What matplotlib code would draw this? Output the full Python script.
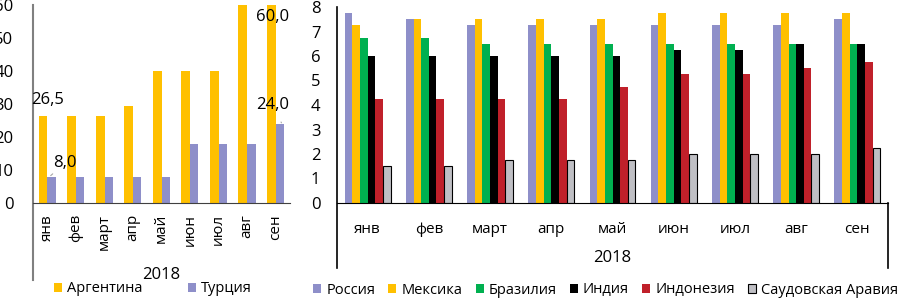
import matplotlib
matplotlib.use("Agg")
import matplotlib.pyplot as plt
import numpy as np
from matplotlib.lines import Line2D

plt.rcParams["font.family"] = ["Open Sans", "DejaVu Sans"]

months = ["янв", "фев", "март", "апр", "май", "июн", "июл", "авг", "сен"]
year = "2018"

argentina = [26.5, 26.5, 26.5, 29.5, 40, 40, 40, 60, 60]
turkey = [8, 8, 8, 8, 8, 17.75, 17.75, 17.75, 24]

russia = [7.75, 7.5, 7.25, 7.25, 7.25, 7.25, 7.25, 7.25, 7.5]
mexico = [7.25, 7.5, 7.5, 7.5, 7.5, 7.75, 7.75, 7.75, 7.75]
brazil = [6.75, 6.75, 6.5, 6.5, 6.5, 6.5, 6.5, 6.5, 6.5]
india = [6.0, 6.0, 6.0, 6.0, 6.0, 6.25, 6.25, 6.5, 6.5]
indonesia = [4.25, 4.25, 4.25, 4.25, 4.75, 5.25, 5.25, 5.5, 5.75]
saudi = [1.5, 1.5, 1.75, 1.75, 1.75, 2.0, 2.0, 2.0, 2.25]

right_names = ["Россия", "Мексика", "Бразилия", "Индия", "Индонезия", "Саудовская Аравия"]
right_series = [russia, mexico, brazil, india, indonesia, saudi]
right_colors = ["#8e8fc9", "#ffc000", "#00b050", "#000000", "#c0202a", "#bfbfc4"]

W, H = 900, 299
fig = plt.figure(figsize=(9, 2.99), dpi=100)

x = np.arange(len(months))

# ---- left chart
ax1 = fig.add_axes([33 / W, 96 / H, 257 / W, 198 / H])
ax1.bar(x - 0.15, argentina, 0.31, color="#ffc000", label="Аргентина")
ax1.bar(x + 0.15, turkey, 0.29, color="#8e8fc9", label="Турция")
ax1.set_xlim(-0.5, len(months) - 0.5)
ax1.set_ylim(0, 60)
ax1.set_yticks(range(0, 61, 10))
ax1.tick_params(axis="y", length=0, labelsize=12, pad=14)
ax1.tick_params(axis="x", length=0, labelsize=11, pad=8)
ax1.set_xticks(x)
ax1.set_xticklabels(months, rotation=90)
for s in ["top", "right"]:
    ax1.spines[s].set_visible(False)
ax1.spines["left"].set_visible(False)
ax1.spines["bottom"].set_color("#404040")
ax1.add_line(Line2D([0, 0], [1, -(280 - 203) / 198], transform=ax1.transAxes,
                    color="#808080", lw=1.5, clip_on=False))
ax1.text(0.5, -(275 - 203) / 198, year, transform=ax1.transAxes,
         ha="center", va="center", fontsize=12)

ann = dict(fontsize=12, ha="center", va="center")
ax1.annotate("26,5", (0, 31.2), **ann)
ax1.annotate("8,0", xy=(0.12, turkey[0] + 0.3), xytext=(0.62, 12.1),
             arrowprops=dict(arrowstyle="-", color="#a6a6a6", lw=0.8,
                             shrinkA=5, shrinkB=0), **ann)
ax1.annotate("60,0", (7.9, 56.4), **ann)
ax1.annotate("24,0", xy=(8.2, turkey[8] + 0.3), xytext=(7.9, 29.7),
             arrowprops=dict(arrowstyle="-", color="#a6a6a6", lw=0.8,
                             shrinkA=5, shrinkB=0), **ann)

fig.legend(*ax1.get_legend_handles_labels(), loc="center left",
           bbox_to_anchor=(54 / W, 1 - 289 / H), ncol=2, frameon=False,
           fontsize=10.5, handlelength=0.55, handleheight=0.55,
           handletextpad=0.35, columnspacing=3.1, borderpad=0, borderaxespad=0)

# ---- right chart
ax2 = fig.add_axes([337 / W, 96 / H, 551 / W, 196 / H])
bw = 0.125
for i, (vals, name, col) in enumerate(zip(right_series, right_names, right_colors)):
    ec = "black" if name == "Саудовская Аравия" else col
    ax2.bar(x + (i - 2.5) * bw, vals, bw, color=col, edgecolor=ec,
            linewidth=0.8 if ec == "black" else 0, label=name)
ax2.set_xlim(-0.5, len(months) - 0.5)
ax2.set_ylim(0, 8)
ax2.set_yticks(range(0, 9))
ax2.tick_params(axis="y", length=0, labelsize=12, pad=12)
ax2.tick_params(axis="x", length=0, labelsize=11, pad=14)
ax2.set_xticks(x)
ax2.set_xticklabels(months)
for s in ["top", "right"]:
    ax2.spines[s].set_visible(False)
ax2.spines["left"].set_visible(False)
ax2.spines["bottom"].set_color("black")
ext = -(268 - 203) / 196
ax2.add_line(Line2D([0, 0], [1, ext], transform=ax2.transAxes,
                    color="black", lw=1.2, clip_on=False))
ax2.add_line(Line2D([1, 1], [0, ext], transform=ax2.transAxes,
                    color="black", lw=1.2, clip_on=False))
ax2.text(0.5, -(258 - 203) / 196, year, transform=ax2.transAxes,
         ha="center", va="center", fontsize=12)

fig.legend(*ax2.get_legend_handles_labels(), loc="center left",
           bbox_to_anchor=(313 / W, 1 - 290 / H), ncol=6, frameon=False,
           fontsize=10.5, handlelength=0.55, handleheight=0.55,
           handletextpad=0.35, columnspacing=0.9, borderpad=0, borderaxespad=0)

fig.savefig("out.png", dpi=100)
